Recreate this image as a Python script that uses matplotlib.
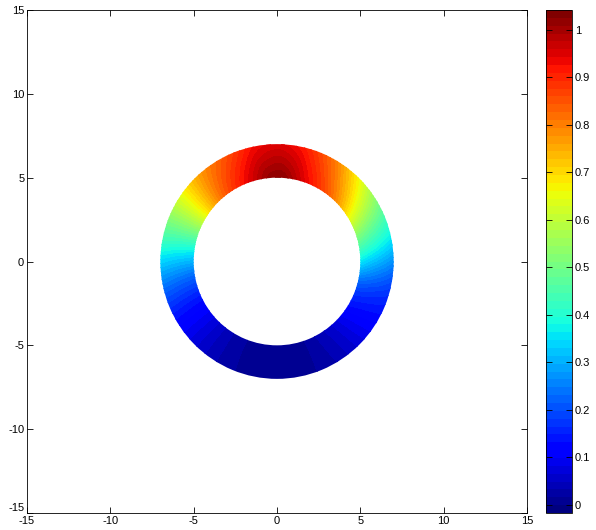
import numpy as np
import matplotlib
matplotlib.use("Agg")
import matplotlib.pyplot as plt
import matplotlib.tri as mtri
from matplotlib.patches import Wedge

plt.rcParams["font.family"] = ["Liberation Sans", "DejaVu Sans"]
plt.rcParams["font.size"] = 8

# ring geometry
r_inner = 5
r_outer = 7

# node angles around the ring (deg, counter-clockwise from +x)
angles = [0, 15, 30, 45, 60, 75, 90, 105, 120, 135, 150, 165,
          180, 195, 210, 225, 240, 255, 270, 285, 300, 315, 330, 345]
# field value on the inner edge (r=5) and outer edge (r=7)
u_inner = [0.36, 0.50, 0.65, 0.79, 0.89, 0.97, 1.03, 0.97, 0.89, 0.78, 0.62, 0.45,
           0.30, 0.19, 0.12, 0.07, 0.03, 0.01, 0.00, 0.01, 0.04, 0.08, 0.14, 0.22]
u_outer = [0.26, 0.38, 0.50, 0.65, 0.80, 0.90, 0.94, 0.91, 0.83, 0.74, 0.60, 0.47,
           0.34, 0.22, 0.13, 0.07, 0.03, 0.01, 0.00, 0.01, 0.03, 0.07, 0.12, 0.17]

vmin, vmax = -0.017, 1.042
axis_ticks = [-15, -10, -5, 0, 5, 10, 15]
cbar_ticks = [0, 0.1, 0.2, 0.3, 0.4, 0.5, 0.6, 0.7, 0.8, 0.9, 1]
cbar_labels = ["0", "0.1", "0.2", "0.3", "0.4", "0.5", "0.6", "0.7", "0.8", "0.9", "1"]

# mesh nodes slightly past the edges, clipped to the true annulus afterwards
th = np.deg2rad(angles)
n = len(angles)
x = np.concatenate([(r_inner - 0.1) * np.cos(th), (r_outer + 0.1) * np.cos(th)])
y = np.concatenate([(r_inner - 0.1) * np.sin(th), (r_outer + 0.1) * np.sin(th)])
z = np.concatenate([u_inner, u_outer])
tris = []
for i in range(n):
    j = (i + 1) % n
    tris.append([i, n + i, n + j])
    tris.append([i, n + j, j])
tri = mtri.Triangulation(x, y, tris)
tri_fine, z_fine = mtri.UniformTriRefiner(tri).refine_field(z, subdiv=3)

fig = plt.figure(figsize=(5.96, 5.30), dpi=100)
ax = fig.add_axes([27 / 596, 17 / 530, 500 / 596, 503 / 530])
cax = fig.add_axes([546 / 596, 17 / 530, 26 / 596, 503 / 530])

cmap = plt.get_cmap("jet", 64)
levels = np.linspace(vmin, vmax, 65)
cs = ax.tricontourf(tri_fine, z_fine, levels=levels, cmap=cmap, antialiased=False)
ring = Wedge((0, 0), r_outer, 0, 360, width=r_outer - r_inner, transform=ax.transData)
cs.set_clip_path(ring)

ax.set_xlim(-15, 15)
ax.set_ylim(-15, 15)
ax.set_xticks(axis_ticks)
ax.set_yticks(axis_ticks)
ax.set_xticklabels([str(t) for t in axis_ticks])
ax.set_yticklabels([str(t) for t in axis_ticks])
ax.tick_params(direction="in", top=True, right=True, length=4, width=0.6, pad=2)
# MATLAB lifts the lowest y label so it clears the x labels
ax.get_yticklabels()[0].set_verticalalignment("bottom")
for s in ax.spines.values():
    s.set_linewidth(0.6)

cb = fig.colorbar(cs, cax=cax, ticks=cbar_ticks)
cb.set_ticklabels(cbar_labels)
cb.outline.set_linewidth(0.6)
cax.tick_params(direction="in", left=True, right=True, length=4, width=0.6, pad=2)

fig.savefig("out.png", dpi=100, facecolor="white")
